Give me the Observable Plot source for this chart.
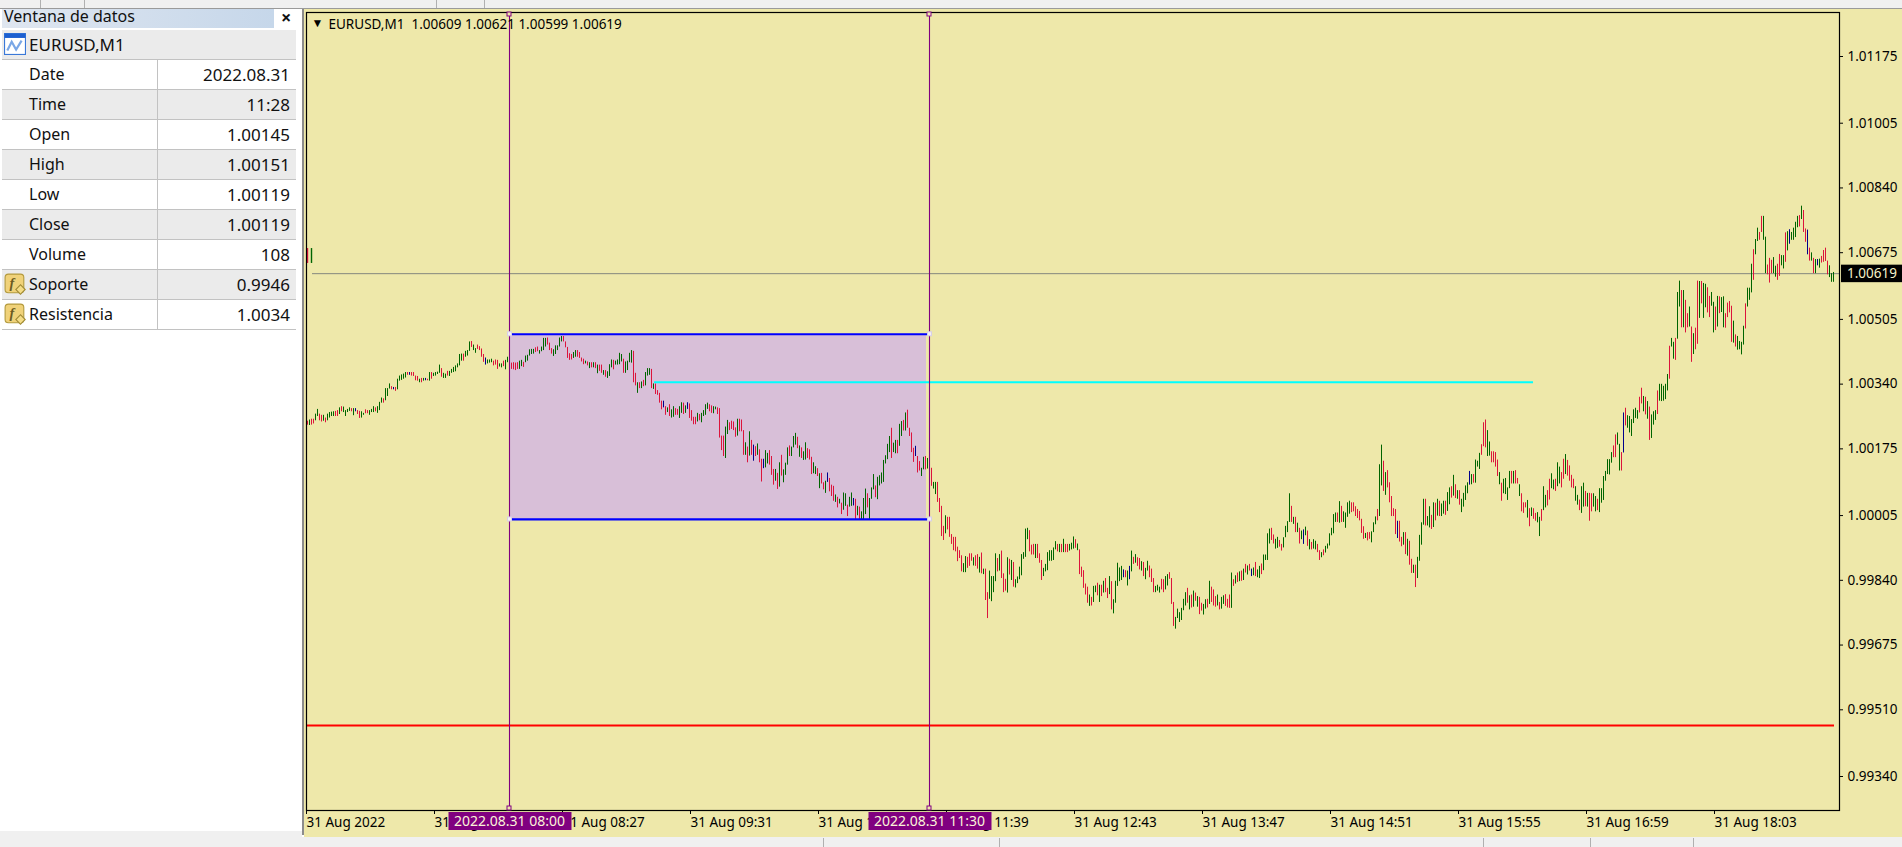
<!DOCTYPE html>
<html><head><meta charset="utf-8">
<script src="https://cdn.jsdelivr.net/npm/d3@7"></script>
<script src="https://cdn.jsdelivr.net/npm/@observablehq/plot@0.6"></script>
<style>
html,body{margin:0;padding:0;background:#fff;width:1902px;height:847px;overflow:hidden;font-family:"Noto Sans",sans-serif;color:#111}
#top{position:absolute;left:0;top:0;width:1902px;height:8px;background:#f0f0f0;border-bottom:1px solid #9a9a9a}
#bot{position:absolute;left:0;top:837px;width:1902px;height:10px;background:#f0f0f0}
.sep{position:absolute;width:1px;background:#b0b0b0}
#title{position:absolute;left:2px;top:9px;width:272px;height:19px;background:linear-gradient(90deg,#dfe6f0,#c6d7ea);font-size:16px;line-height:15px;padding-left:2px;box-sizing:border-box}
#close{position:absolute;left:281px;top:7px;font-size:18px;font-weight:700;line-height:20px}
#panel{position:absolute;left:2px;top:30px;width:294px}
.row{position:relative;height:29px;border-bottom:1px solid #c2c2c2;font-size:16px;line-height:29px;box-sizing:content-box}
.row.g{background:#ebebeb}
.row.h{font-size:17px}
.row .n{position:absolute;left:27px}
.row .v{position:absolute;right:6px;font-size:17px}
.row .d{position:absolute;left:155px;top:0;bottom:0;width:1px;background:#c2c2c2}
.ico{position:absolute;left:2px;top:3px;width:22px;height:22px}
#vbar{position:absolute;left:302px;top:9px;width:2px;height:826px;background:#8c8c8c}
#foot{position:absolute;left:0;top:831px;width:302px;height:6px;background:#f0f0f0}
#chart{position:absolute;left:304px;top:9px}
#chart svg{display:block}
</style></head><body>
<div id="top"></div>
<div id="title">Ventana de datos</div><div id="close">×</div>
<div id="panel"></div>
<div id="foot"></div>
<div id="vbar"></div>
<div id="chart"></div>
<div id="bot"></div>
<script>
// Data window
const infoNames=["Date","Time","Open","High","Low","Close","Volume","Soporte","Resistencia"];
const infoValues=["2022.08.31","11:28","1.00145","1.00151","1.00119","1.00119","108","0.9946","1.0034"];

// Bars: high and low in points (0.00001) above 1.00000, one per minute from 06:19
const highA=[243,246,248,248,261,273,261,258,258,251,261,265,266,267,268,270,277,280,279,270,273,277,275,275,275,270,268,267,263,272,270,270,273,280,277,280,291,302,300,326,326,338,331,329,329,350,358,361,363,367,367,367,367,367,358,357,350,352,352,352,350,367,367,365,367,368,386,377,365,363,370,370,375,380,384,389,413,414,414,421,423,445,446,437,428,437,433,427,413,404,399,399,401,396,399,398,389,389,396,398,406,403,391,392,391,392,396,398,393,409,411,425,426,426,430,432,423,432,454,454,455,442,428,425,435,435,455,459,459,445];
const lowA=[233,232,233,236,244,255,244,241,243,239,244,251,255,255,255,255,260,267,265,255,265,268,267,257,267,260,250,251,258,262,262,258,265,265,267,263,270,289,289,295,306,325,323,323,319,323,345,347,350,353,360,360,358,357,346,345,341,341,345,346,346,345,350,357,358,362,365,355,352,352,358,357,365,367,369,379,384,396,396,406,409,421,431,423,416,426,423,406,393,386,389,391,392,384,386,375,381,379,382,374,392,389,375,374,372,375,375,382,380,392,396,409,413,414,418,420,414,420,423,432,437,423,414,408,413,423,432,445,445,430];
const kindA="rgrrggrrgrggggrrgrggggrgbrrggrrgggrgggrgggrbrgggggrbrrrrgrgbrgrggggrggrgggggggrgggrggrrrrbgggrrrggrgggrrrrggrgggggrrggggrrrgggggrr";
const highB=[431,415,413,418,423,423,418,404,401,396,394,392,392,392,392,386,386,386,372,372,369,387,399,398,396,399,416,413,401,394,396,416,423,421,365,341,341,343,347,367,377,377,375,338,338,321,314,294,294,280,277,285,272,280,275,273,280,290,289,282,290,287,270,253,253,263,260,263,270,285,289,285,282,280,279,277,275,205,205,228,245,239,243,241,226,248,248,246,219,188,177,216,194,182,178,185,170,146,146,168,161,168,153,120,120,110,137,156,119,136,175,180,177,204,212,202,180,175,165,188,173,170,151,137,127,122,109,110,86,90];
const lowB=[403,398,399,403,406,406,403,394,387,389,384,377,379,379,377,364,370,365,360,355,352,357,379,374,386,386,387,394,365,365,372,392,391,341,333,314,326,326,331,333,358,360,326,324,311,309,289,272,277,258,265,255,251,253,258,258,250,263,260,263,273,250,243,234,234,241,244,239,255,258,273,267,263,262,272,260,200,168,153,148,209,219,222,219,202,205,216,216,156,156,137,154,156,141,153,156,137,88,122,124,134,131,105,80,90,69,75,103,86,105,131,153,153,175,182,173,151,148,143,144,148,144,107,109,107,102,71,83,68,59];
const kindB="rrrggrrrrgrgrgrgrrgrgggrggggrggggrrgrgrgggrgrrrrbrgrggrrggrgbrrrrgrggggrrggrrrrggrrrrgrrrgrgrbrgrrbggrrrgrgrgggrgggrgrggrrrggrgrrg";
const highC=[111,97,80,77,55,49,44,34,60,58,29,49,60,46,44,26,24,12,46,70,58,46,73,107,78,100,104,111,143,155,184,204,225,187,194,194,235,242,245,264,271,225,213,174,179,153,140,123,151,153,148,151,123,87,87,87,46,26,-25,2,-2,-2,-46,-53,-53,-78,-87,-100,-120,-102,-104,-95,-95,-105,-100,-97,-104,-93,-134,-134,-194,-139,-153,-153,-95,-107,-97,-88,-146,-160,-105,-109,-112,-117,-161,-154,-129,-97,-92,-32,-30,-36,-73,-71,-71,-71,-95,-112,-132,-122,-92,-87,-87,-80,-64,-71,-71,-71,-58,-71,-71,-71,-68,-52,-59,-70,-85,-129,-138,-172];
const lowC=[87,63,51,39,36,22,32,5,16,26,0,24,26,27,-10,2,-8,-10,-8,5,22,-8,44,68,48,43,78,83,87,134,145,163,148,163,160,160,179,204,218,218,225,204,163,138,153,111,116,102,119,119,121,126,77,70,56,36,10,-51,-61,-44,-34,-53,-71,-87,-90,-115,-107,-141,-143,-143,-132,-127,-114,-126,-127,-134,-144,-146,-148,-214,-260,-211,-217,-194,-166,-141,-139,-158,-194,-190,-195,-149,-163,-180,-182,-171,-161,-151,-109,-104,-59,-90,-98,-98,-107,-107,-119,-163,-153,-141,-138,-114,-114,-112,-85,-90,-92,-92,-92,-92,-92,-88,-85,-83,-81,-87,-148,-155,-183,-200];
const kindC="brrrgrgrggrggbrgrgggrgggrgggggggrggrggrgrrrrbrrggrggrggrrrrgrrrrrrrrggrrrgrrgrgrrggggrgrrrgrgrgggggggrrrgrrrgggggggrgrgrrgggrgrrrr";
const highD=[-180,-200,-206,-178,-177,-170,-175,-175,-165,-158,-183,-153,-166,-212,-165,-119,-131,-127,-136,-138,-139,-127,-88,-104,-97,-105,-107,-115,-117,-132,-114,-126,-134,-158,-178,-175,-180,-160,-161,-153,-148,-143,-158,-219,-257,-236,-245,-234,-211,-194,-183,-202,-200,-190,-195,-204,-206,-221,-224,-212,-211,-165,-180,-187,-204,-200,-219,-206,-202,-199,-211,-200,-144,-161,-151,-144,-141,-139,-134,-122,-126,-122,-134,-131,-117,-136,-127,-121,-98,-98,-44,-32,-30,-47,-58,-53,-61,-71,-54,-25,-13,58,26,-2,-2,-17,-30,-37,-34,-27,-37,-59,-66,-59,-63,-71,-87,-92,-85,-76,-70,-44,-30,5,9,9,38,26,12,9];
const lowD=[-221,-229,-228,-219,-194,-202,-219,-204,-195,-194,-209,-199,-238,-248,-221,-178,-166,-163,-156,-156,-177,-161,-141,-122,-119,-127,-136,-139,-153,-161,-139,-156,-168,-194,-194,-190,-195,-187,-194,-187,-177,-160,-224,-280,-287,-260,-270,-265,-240,-228,-221,-238,-233,-231,-216,-231,-250,-241,-251,-236,-233,-224,-219,-228,-231,-228,-238,-236,-224,-229,-233,-234,-234,-178,-172,-168,-166,-165,-163,-144,-149,-139,-153,-151,-153,-156,-158,-148,-138,-112,-112,-70,-61,-70,-83,-81,-78,-88,-80,-54,-41,-15,-15,-20,-41,-41,-70,-59,-71,-49,-76,-85,-85,-83,-85,-92,-112,-105,-100,-93,-83,-75,-49,-44,-15,-15,-17,-15,-15,-30];
const kindD="rgrggrgrgrrgrgggggbrgbgrgrrgrggrrrgggrrggrrrggggggrgrgrgrrggrgrrrgrggrrrgrgrgrgrgrbgrggrggggrrggrrggggrgrgrgbgrgrggrrgrggggggrgrgg";
const highE=[35,39,35,35,25,18,13,-7,-26,-43,-41,-41,-39,-16,-1,18,132,182,141,112,117,86,51,20,18,-12,-12,-53,-41,-41,-58,-63,-109,-124,-124,-104,-48,-16,44,44,0,25,3,35,34,44,39,32,39,39,61,73,76,105,81,66,66,44,59,78,86,115,107,107,144,141,161,183,239,246,219,190,165,165,163,144,112,85,95,97,73,115,115,115,117,97,81,58,35,35,41,20,22,20,8,10,-2,18,76,54,66,95,109,93,95,137,126,112,146,158,143,129,105,95,76,54,42,76,85,64,59,59,58,58,51,44,71,71,102,115];
const lowE=[-2,6,10,12,0,-5,-11,-43,-58,-56,-62,-58,-67,-41,-21,-11,0,78,64,54,73,35,0,0,-46,-56,-65,-77,-73,-97,-101,-124,-145,-145,-181,-158,-114,-73,-22,-24,-24,-29,-33,-28,-11,1,0,0,6,3,13,30,47,52,46,44,29,10,24,41,58,80,81,85,85,126,120,156,178,175,153,154,137,137,126,102,81,39,58,56,41,71,83,83,83,83,51,12,8,22,-4,-26,0,-7,-12,-16,-51,-12,15,22,27,42,71,68,64,76,83,73,95,107,103,90,73,71,39,29,15,8,24,25,24,-12,12,24,12,15,10,34,41,90];
const kindE="ggrrrrrrrgrrgggrggrgrrrrrbrrgrgrrgrggggrggrgrgrggrggrgrgrggggbgrgggrrrggrrrrgrggggrgrrgrrrgrgrrggrggrrggrggrrgrrrrggrggrgrrggrgg";
const highF=[145,145,163,180,208,213,184,163,264,276,257,255,247,272,276,270,304,327,306,304,293,279,259,267,270,320,337,337,332,337,362,434,454,444,454,571,600,576,576,551,517,534,483,466,480,600,599,599,594,592,583,561,571,546,534,561,560,558,560,517,544,548,536,498,463,459,446,444,485,542,582,582,643,680,706,735,724,765,765,712,641,658,653,660,638,643,668,665,665,723,726,731,724,735,750,765,767,791,780,733,730,684,672,658,655,655,656,663,678,684,651,639,619,622];
const lowF=[107,106,136,150,150,182,116,116,162,231,225,213,204,237,250,248,264,287,267,259,248,194,199,233,245,260,294,293,294,298,320,350,432,401,398,452,534,481,481,468,481,483,393,413,425,439,505,542,505,532,519,507,536,468,474,483,517,520,481,480,507,519,444,442,432,424,425,412,437,478,534,551,570,602,667,701,704,724,704,619,616,595,619,619,610,602,612,639,631,648,677,694,704,704,711,736,738,757,724,699,667,651,651,619,619,639,633,646,648,650,616,609,597,597];
const kindF="gggggrrggrbrggggggrrgrgrgggrgggggrggrggrgrrgrgrrgrggrrggrgrggrrrrgrggggrgggrggrrggrrrggrrggrgbggggrgrrbrgrgbgrrrrg";

// Stray bars left at the top of the first bars, and the level values
const strayMinutes=[0,2];
const strayHigh=[683,683];
const strayLow=[645,645];
const strayKind="rg";
const boxTop=1.00462, boxBottom=0.99990;
const resistance=1.0034, support=0.99465, lastPrice=1.00619;

const priceTicks=[1.01175,1.01005,1.0084,1.00675,1.00505,1.0034,1.00175,1.00005,0.9984,0.99675,0.9951,0.9934];
const timeTickMinutes=[379,443,507,571,635,699,763,827,891,955,1019,1083];
const timeTickLabels=["31 Aug 2022","31 Aug 07:23","31 Aug 08:27","31 Aug 09:31","31 Aug 10:35","31 Aug 11:39","31 Aug 12:43","31 Aug 13:47","31 Aug 14:51","31 Aug 15:55","31 Aug 16:59","31 Aug 18:03"];
const headerText="EURUSD,M1\u00a0\u00a01.00609 1.00621 1.00599 1.00619";
const startLabel="2022.08.31 08:00", endLabel="2022.08.31 11:30";

const at=m=>new Date(Date.UTC(2022,7,31,0,0)+m*60000);
const FIRST=379;
const colors={r:"#dc143c",g:"#006400",b:"#00008b"};
const allHigh=[...highA,...highB,...highC,...highD,...highE,...highF];
const allLow=[...lowA,...lowB,...lowC,...lowD,...lowE,...lowF];
const allKind=kindA+kindB+kindC+kindD+kindE+kindF;
const bars=allHigh.map((h,i)=>({t:at(FIRST+i),high:1+h/1e5,low:1+allLow[i]/1e5,kind:allKind[i]||"g"}));
const strays=strayMinutes.map((m,i)=>({t:at(FIRST+m),high:1+strayHigh[i]/1e5,low:1+strayLow[i]/1e5,kind:strayKind[i]}));
const startTime=at(480), endTime=at(690);
const FONT='"Noto Sans",sans-serif';

// Panel
const panel=document.getElementById("panel");
const chartIcon='<svg class="ico" viewBox="0 0 20 20"><rect x="0.5" y="0.5" width="19" height="19" fill="#fff" stroke="#3a78d8"/><rect x="0.5" y="0.5" width="19" height="4" fill="#1c5fd0"/><path d="M3 16 L7 8 L11 15 L16 7" fill="none" stroke="#7aa7e6" stroke-width="2"/></svg>';
const fIcon='<svg class="ico" viewBox="0 0 20 20"><rect x="1" y="1" width="17" height="17" rx="3" fill="#f0d27a" stroke="#b39a3e"/><text x="5" y="14" font-size="13" font-style="italic" font-family="serif" font-weight="700" fill="#6b5a20">f</text><rect x="12" y="12" width="6" height="6" transform="rotate(45 15 15)" fill="#f4dc86" stroke="#a08a35"/></svg>';
let html='<div class="row g h">'+chartIcon+'<span class="n">EURUSD,M1</span></div>';
infoNames.forEach((n,i)=>{
  const icon=i>=7?fIcon:"";
  html+='<div class="row'+(i%2?" g":"")+'">'+icon+'<span class="n">'+n+'</span><span class="d"></span><span class="v">'+infoValues[i]+'</span></div>';
});
panel.innerHTML=html;

// Decorative separators in the window strips
[40,84,436,484].forEach(x=>{const d=document.createElement("div");d.className="sep";d.style.cssText="left:"+x+"px;top:0;height:8px";document.body.appendChild(d)});
[823,999,1483,1590,1693].forEach(x=>{const d=document.createElement("div");d.className="sep";d.style.cssText="left:"+x+"px;top:838px;height:9px";document.body.appendChild(d)});

// Overlays that need the scales: handles, date flags and price flag
function overlays(index,{x,y}){
  const g=d3.create("svg:g");
  const pad=61.5;
  [[startTime,startLabel],[endTime,endLabel]].forEach(([t,l])=>{
    const px=x(t)+0.5;
    g.append("rect").attr("x",px-2.5).attr("y",3).attr("width",4).attr("height",4).attr("fill","#eee8aa").attr("stroke","#800080");
    g.append("rect").attr("x",px-2.5).attr("y",797).attr("width",4).attr("height",4).attr("fill","#eee8aa").attr("stroke","#800080");
    [boxTop,boxBottom].forEach(p=>g.append("rect").attr("x",px-2).attr("y",y(p)-3).attr("width",4).attr("height",4).attr("fill","#f4f0f4").attr("stroke","#d8d0e8"));
    g.append("rect").attr("x",px-pad+0.5).attr("y",803).attr("width",pad*2).attr("height",18).attr("fill","#800080");
    g.append("text").attr("x",px).attr("y",812).attr("dy","0.35em").attr("text-anchor","middle").attr("fill","#fbf3d8").attr("font-size",14).attr("font-family",FONT).text(l);
  });
  const yp=y(lastPrice);
  g.append("rect").attr("x",1537).attr("y",yp-8.5).attr("width",61).attr("height",17.5).attr("fill","#000");
  g.append("text").attr("x",1543).attr("y",yp+0.5).attr("dy","0.35em").attr("text-anchor","start").attr("fill","#f4f0c8").attr("font-size",13.5).attr("font-family",FONT).text(lastPrice.toFixed(5));
  return g.node();
}

const chart=Plot.plot({
  width:1598,height:828,
  marginLeft:2,marginRight:63,marginTop:3,marginBottom:27,
  style:{background:"#eee8aa",fontFamily:FONT,fontSize:"13.5px",color:"#000",overflow:"visible"},
  x:{type:"utc",domain:[at(378.5),at(1145)],label:null},
  y:{domain:[0.992508,1.012846],label:null},
  marks:[
    Plot.rect([0],{x1:()=>startTime,x2:()=>at(688.5),y1:()=>boxBottom,y2:()=>boxTop,fill:"#d8bfd8",dy:-1}),
    Plot.ruleY([lastPrice],{x1:()=>at(381.5),x2:()=>at(1145),stroke:"#84887e",strokeWidth:1}),
    Plot.ruleX(strays,{x:"t",y1:"low",y2:"high",stroke:d=>colors[d.kind],strokeWidth:1.4}),
    Plot.ruleX(bars,{x:"t",y1:"low",y2:"high",stroke:d=>colors[d.kind],strokeWidth:1}),
    Plot.ruleY([boxTop,boxBottom],{x1:()=>startTime,x2:()=>endTime,stroke:"#0000ff",strokeWidth:2.2,dy:-1}),
    Plot.ruleY([resistance],{x1:()=>at(552.5),x2:()=>at(992),stroke:"#00ffff",strokeWidth:2,dy:-1}),
    Plot.ruleY([support],{x1:()=>at(378.5),x2:()=>at(1142.5),stroke:"#ff0000",strokeWidth:2,dy:-1}),
    Plot.ruleX([startTime,endTime],{stroke:"#800080",strokeWidth:1.1}),
    Plot.frame({stroke:"#000",strokeWidth:1.2}),
    Plot.axisY({anchor:"right",ticks:priceTicks,tickFormat:d=>d.toFixed(5),tickSize:3,tickPadding:5,label:null,stroke:"#000",fill:"#000",dy:1}),
    Plot.axisX({anchor:"bottom",ticks:timeTickMinutes.map(at),tickFormat:d=>timeTickLabels[timeTickMinutes.indexOf((d-at(0))/60000)],tickSize:4,tickPadding:3,textAnchor:"start",dx:-1,label:null,stroke:"#000",fill:"#000"}),
    Plot.text([headerText],{frameAnchor:"top-left",dx:22,dy:7,textAnchor:"start",fill:"#000",fontSize:13.5,lineAnchor:"top"}),
    Plot.text(["▼"],{frameAnchor:"top-left",dx:5,dy:6,textAnchor:"start",fill:"#000",fontSize:12,lineAnchor:"top"}),
    overlays
  ]
});
document.getElementById("chart").appendChild(chart);
</script>
</body></html>
